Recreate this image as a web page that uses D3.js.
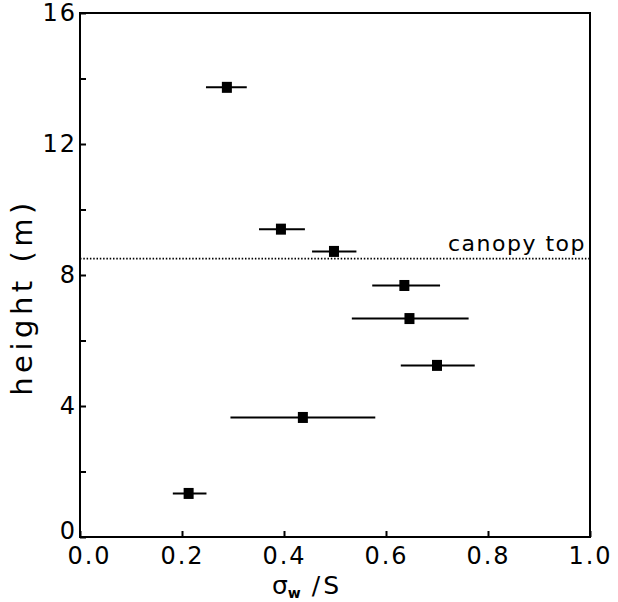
<!DOCTYPE html>
<html>
<head>
<meta charset="utf-8">
<script src="https://cdn.jsdelivr.net/npm/d3@7"></script>
<style>
  html, body { margin: 0; padding: 0; background: #fff; }
  svg { display: block; }
  text { font-family: "DejaVu Sans", sans-serif; fill: #000; }
</style>
</head>
<body>
<svg id="chart" width="618" height="602"></svg>
<script>
// ---- data ----
const heights = [13.73, 9.40, 8.72, 7.68, 6.67, 5.24, 3.65, 1.33];
const sigmaW  = [0.288, 0.394, 0.498, 0.636, 0.646, 0.700, 0.437, 0.213];
const errLow  = [0.247, 0.351, 0.455, 0.573, 0.533, 0.629, 0.295, 0.182];
const errHigh = [0.327, 0.441, 0.542, 0.706, 0.762, 0.774, 0.579, 0.248];
const canopyTop = 8.5;
const xTicks = [0, 0.2, 0.4, 0.6, 0.8, 1.0];
const yTicks = [0, 4, 8, 12, 16];
const yMinorTicks = [2, 6, 10, 14];

const points = heights.map((h, i) => ({ h, s: sigmaW[i], lo: errLow[i], hi: errHigh[i] }));

const svg = d3.select("#chart");
const x = d3.scaleLinear().domain([0, 1]).range([80, 590]);
const y = d3.scaleLinear().domain([0, 16]).range([537, 13]);

// axes (ticks inward)
const gy = svg.append("g").attr("transform", `translate(${x(0)},0)`)
  .call(d3.axisLeft(y).tickValues(yTicks).tickFormat(d3.format("d")).tickSizeInner(-6).tickSizeOuter(0).tickPadding(3));
const gyMinor = svg.append("g").attr("transform", `translate(${x(0)},0)`)
  .call(d3.axisLeft(y).tickValues(yMinorTicks).tickFormat("").tickSizeInner(-6).tickSizeOuter(0));
const gx = svg.append("g").attr("transform", `translate(0,${y(0)})`)
  .call(d3.axisBottom(x).tickValues(xTicks).tickFormat(d3.format(".1f")).tickSizeInner(-6).tickSizeOuter(0).tickPadding(10));

[gy, gyMinor, gx].forEach(g => {
  g.select(".domain").remove();
  g.selectAll("line").attr("stroke", "#000").attr("stroke-width", 2);
  g.selectAll("text").attr("font-size", 24).attr("letter-spacing", 2)
    .style("font-family", '"DejaVu Sans", sans-serif').attr("fill", "#000");
});
gx.selectAll("text").filter(d => d === 0).attr("dx", 9);
gy.selectAll("text").filter(d => d === 0).attr("y", -6);

// frame
svg.append("rect")
  .attr("x", x(0)).attr("y", y(16))
  .attr("width", x(1) - x(0)).attr("height", y(0) - y(16))
  .attr("fill", "none").attr("stroke", "#000").attr("stroke-width", 2);

// canopy top line
svg.append("line")
  .attr("x1", x(0)).attr("x2", x(1))
  .attr("y1", y(canopyTop)).attr("y2", y(canopyTop))
  .attr("stroke", "#000").attr("stroke-width", 1.6)
  .attr("stroke-dasharray", "1.5,1.8");
svg.append("text")
  .attr("x", x(1) - 4).attr("y", y(canopyTop) - 8)
  .attr("text-anchor", "end").attr("font-size", 22).attr("letter-spacing", 1.5)
  .text("canopy top");

// error bars
svg.append("g").selectAll("line").data(points).join("line")
  .attr("x1", d => x(d.lo)).attr("x2", d => x(d.hi))
  .attr("y1", d => y(d.h)).attr("y2", d => y(d.h))
  .attr("stroke", "#000").attr("stroke-width", 2);

// markers
svg.append("g").selectAll("rect").data(points).join("rect")
  .attr("x", d => x(d.s) - 5).attr("y", d => y(d.h) - 5.5)
  .attr("width", 10).attr("height", 11).attr("fill", "#000");

// axis titles
svg.append("text")
  .attr("transform", "translate(32,297) rotate(-90)")
  .attr("text-anchor", "middle").attr("font-size", 29).attr("letter-spacing", 4.5)
  .text("height (m)");

const xl = svg.append("text").attr("x", 272).attr("y", 594).attr("font-size", 25);
xl.append("tspan").text("σ");
xl.append("tspan").attr("font-size", 14).attr("font-weight", "bold").attr("dy", 4).text("w");
xl.append("tspan").attr("dy", -4).attr("letter-spacing", 3).text(" /S");
</script>
</body>
</html>
